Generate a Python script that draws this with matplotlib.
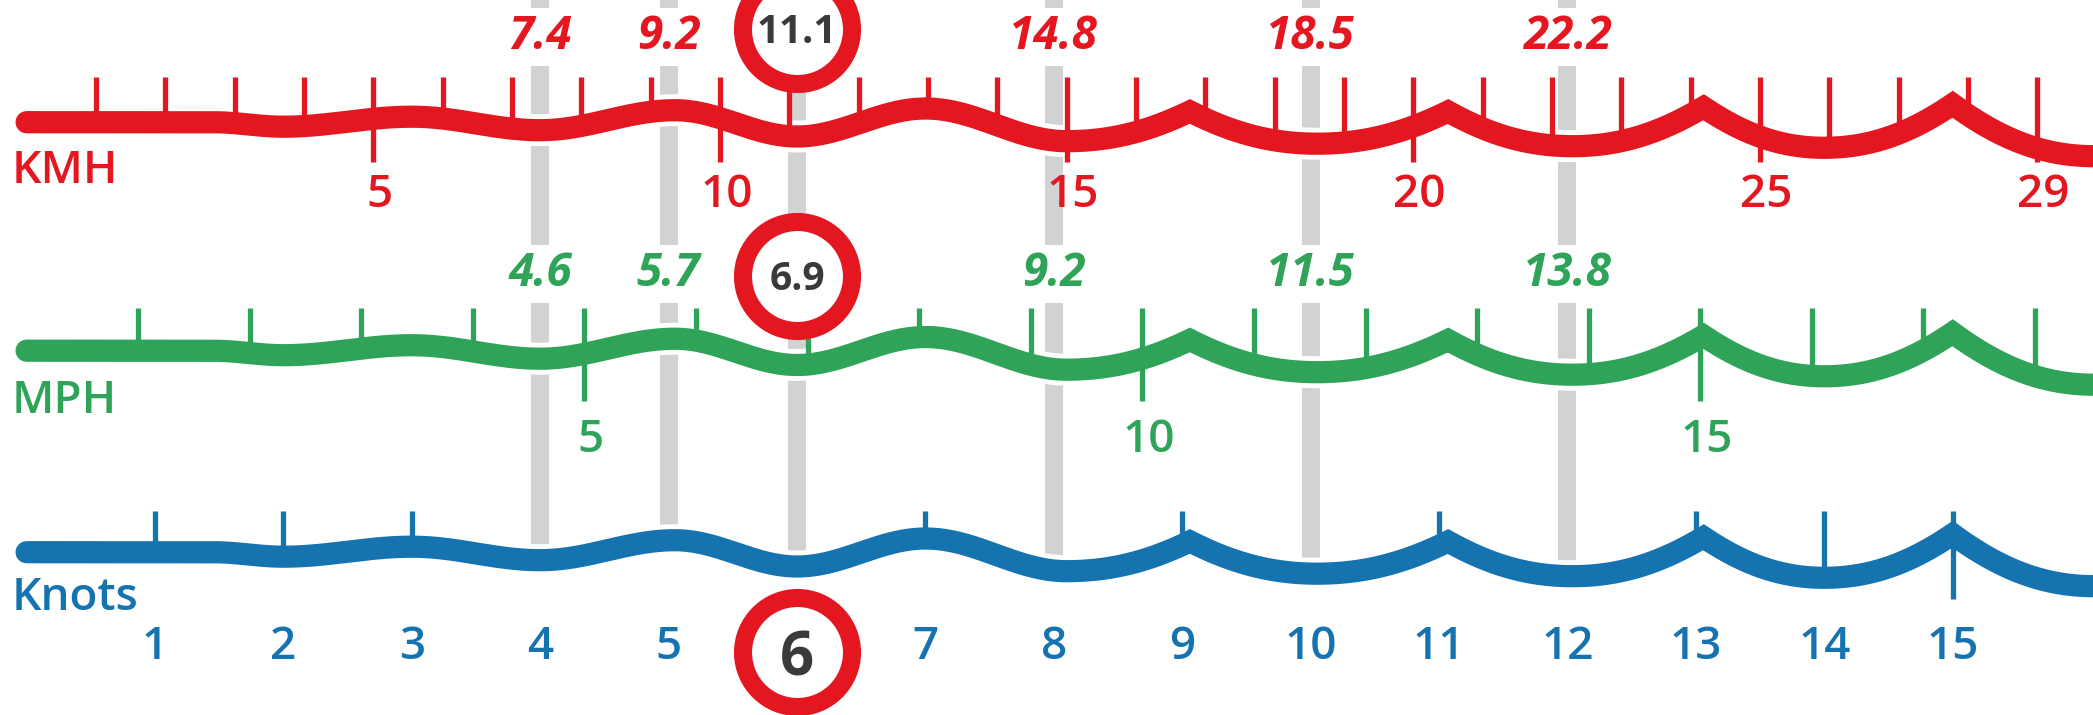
import numpy as np
import matplotlib
matplotlib.use("Agg")
import matplotlib.pyplot as plt
from matplotlib.bezier import BezierSegment
from matplotlib import font_manager

# ---------------- data ----------------
knot_values = list(range(1, 16))
bar_knots = [4, 5, 6, 8, 10, 12]
kmh_at_bars = ["7.4", "9.2", "11.1", "14.8", "18.5", "22.2"]
mph_at_bars = ["4.6", "5.7", "6.9", "9.2", "11.5", "13.8"]
circled_knot = 6

kmh_ticks = list(range(1, 30))
kmh_labels = [5, 10, 15, 20, 25, 29]
mph_ticks = list(range(1, 19))
mph_labels = [5, 10, 15]
knot_ticks = [1, 2, 3, 7, 9, 11, 13, 14]
knot_long_ticks = [15]

KMH_PER_KNOT = 1.852
MPH_PER_KNOT = 1.150779

# decorative wave: anchor points (x in knots, vertical offset in px), cusp flags
wave_x = [0.0, 1.45, 2.0, 3.0, 4.0, 5.05, 6.0, 7.0, 8.1, 9.06, 10.05, 11.07,
          12.04, 13.06, 14.0, 15.0, 16.1]
wave_dy = [0, 0, 4.5, -5.5, 8, -12, 14.3, -13.7, 19, -10.8, 21.5, -10.7,
           24, -15, 25.6, -18, 34]
wave_cusp = [False] * 9 + [True, False, True, False, True, False, True, False]

# ---------------- style ----------------
RED = "#E4161F"
GREEN = "#2FA358"
BLUE = "#1573B0"
GRAY = "#D1D2D4"
DARK = "#3A3A3A"

names = {f.name for f in font_manager.fontManager.ttflist}
FONT = "Open Sans" if "Open Sans" in names else "DejaVu Sans"
plt.rcParams["font.family"] = [FONT, "DejaVu Sans"]

W, H = 2093, 715
fig = plt.figure(figsize=(W / 100, H / 100), dpi=100)
ax = fig.add_axes([0, 0, 1, 1])
PX_PER_KNOT = 128.4
X0_PX = 155.0
ax.set_xlim(1 - X0_PX / PX_PER_KNOT, 1 + (W - X0_PX) / PX_PER_KNOT)
ax.set_ylim(H, 0)
ax.axis("off")

# ---- build wave from Bezier segments ----
xs_all, ys_all = [], []
for i in range(len(wave_x) - 1):
    x0, y0, x1, y1 = wave_x[i], wave_dy[i], wave_x[i + 1], wave_dy[i + 1]
    dx, dy = x1 - x0, y1 - y0
    c1 = (x0 + dx / 3, y0 + dy * 2 / 3) if wave_cusp[i] else (x0 + 0.36 * dx, y0)
    c2 = (x1 - dx / 3, y1 - dy * 2 / 3) if wave_cusp[i + 1] else (x1 - 0.36 * dx, y1)
    seg = BezierSegment(np.array([(x0, y0), c1, c2, (x1, y1)]))
    pts = seg(np.linspace(0, 1, 60))
    if i > 0:
        pts = pts[1:]
    xs_all.append(pts[:, 0])
    ys_all.append(pts[:, 1])
wx = np.concatenate(xs_all)
wy = np.concatenate(ys_all)


def wave_at(x):
    return np.interp(x, wx, wy)


LW = 16.0
TICK_LW = 3.8
LABEL_WEIGHT = "semibold"

rows = [
    dict(name="KMH", base=122.2, color=RED, ticks=[v / KMH_PER_KNOT for v in kmh_ticks],
         long=[v / KMH_PER_KNOT for v in kmh_labels], labels=kmh_labels, lab_factor=KMH_PER_KNOT,
         top=77, long_bottom=162, lab_base=207, word_base=183, conv_base=49,
         conv=kmh_at_bars, circle_y=29, circle_base=43, circle_fs=29),
    dict(name="MPH", base=350.7, color=GREEN, ticks=[v / MPH_PER_KNOT for v in mph_ticks],
         long=[v / MPH_PER_KNOT for v in mph_labels], labels=mph_labels, lab_factor=MPH_PER_KNOT,
         top=308, long_bottom=401, lab_base=452, word_base=413, conv_base=286,
         conv=mph_at_bars, circle_y=275.5, circle_base=289.5, circle_fs=28),
    dict(name="Knots", base=552.2, color=BLUE, ticks=knot_ticks,
         long=knot_long_ticks, labels=None, lab_factor=1.0,
         top=511, long_bottom=599, lab_base=659, word_base=610, conv_base=None,
         conv=None, circle_y=652, circle_base=676, circle_fs=43),
]

# gray guide bars
knots_base = rows[2]["base"]
for k in bar_knots:
    ax.plot([k, k], [-30, knots_base + wave_at(k)], color=GRAY, lw=13,
            solid_capstyle="round", zorder=2)

LEFT = 1 - (X0_PX - 12) / PX_PER_KNOT

for r in rows:
    base = r["base"]
    # white halo + coloured wave
    ax.plot(wx, wy + base, color="white", lw=LW + 7, solid_capstyle="round",
            solid_joinstyle="miter", zorder=3)
    ax.plot(wx, wy + base, color=r["color"], lw=LW, solid_capstyle="round",
            solid_joinstyle="miter", zorder=5)
    # ticks
    long_set = set(np.round(r["long"], 6))
    for t in r["ticks"]:
        if np.round(t, 6) in long_set:
            continue
        ax.plot([t, t], [r["top"], base + wave_at(t)], color=r["color"],
                lw=TICK_LW, solid_capstyle="butt", zorder=4)
    for t in r["long"]:
        ax.plot([t, t], [r["top"], r["long_bottom"]], color=r["color"],
                lw=TICK_LW, solid_capstyle="butt", zorder=4)
    # row name
    ax.text(LEFT, r["word_base"], r["name"], color=r["color"], fontsize=33,
            weight=LABEL_WEIGHT, ha="left", va="baseline", zorder=7)
    # axis labels under the wave
    if r["labels"] is not None:
        for v in r["labels"]:
            ax.text(v / r["lab_factor"] + 0.05, r["lab_base"], str(v), color=r["color"],
                    fontsize=33, weight=LABEL_WEIGHT, ha="center", va="baseline", zorder=7)
    else:
        for k in knot_values:
            if k == circled_knot:
                continue
            ax.text(k, r["lab_base"], str(k), color=r["color"], fontsize=33,
                    weight=LABEL_WEIGHT, ha="center", va="baseline", zorder=7)
    # converted values above the bars
    if r["conv"] is not None:
        for k, s in zip(bar_knots, r["conv"]):
            if k == circled_knot:
                continue
            ax.text(k, r["conv_base"], s, color=r["color"], fontsize=33,
                    style="italic", weight="bold", ha="center", va="baseline",
                    zorder=7,
                    bbox=dict(boxstyle="square,pad=0.12", fc="white", ec="none"))
    # red circle highlighting the 6-knot value
    ax.plot([circled_knot], [r["circle_y"]], marker="o", ms=78.5, mew=13,
            mfc="white", mec=RED, zorder=8, linestyle="none")
    if r["conv"] is not None:
        ctext = r["conv"][bar_knots.index(circled_knot)]
    else:
        ctext = str(circled_knot)
    ax.text(circled_knot, r["circle_base"], ctext, color=DARK, fontsize=r["circle_fs"],
            weight="bold", ha="center", va="baseline", zorder=9)

fig.savefig("out.png", dpi=100, facecolor="white")
